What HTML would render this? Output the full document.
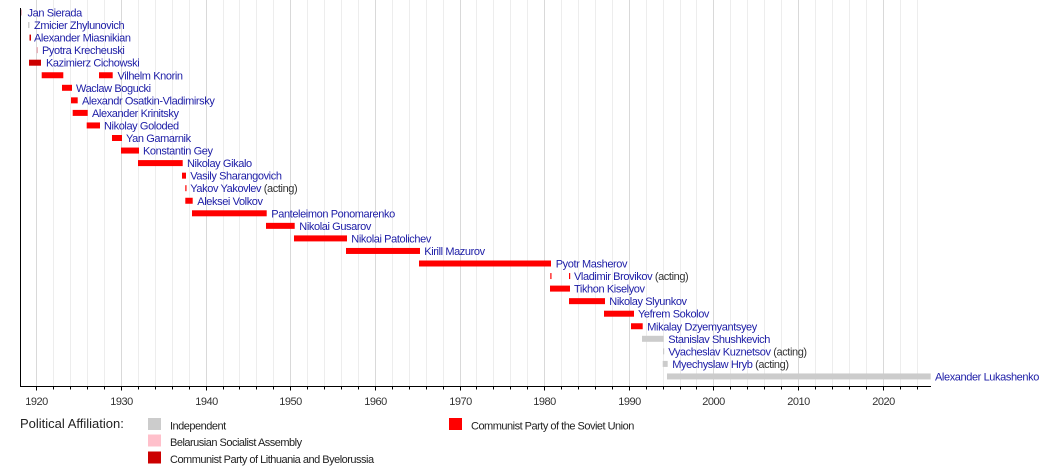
<!DOCTYPE html>
<html><head><meta charset="utf-8"><style>
html,body{margin:0;padding:0;background:#fff;}
body{width:1050px;height:475px;overflow:hidden;}
svg{display:block;}
.n{font-family:"Liberation Sans",Arial,sans-serif;font-size:11px;letter-spacing:-0.4px;fill:#1c1ca6;}
.a{fill:#333;}
.t{font-family:"Liberation Sans",Arial,sans-serif;font-size:11px;letter-spacing:-0.5px;fill:#333;}
.l{font-family:"Liberation Sans",Arial,sans-serif;font-size:11px;letter-spacing:-0.5px;fill:#222;}
</style></head><body>
<svg width="1050" height="475" xmlns="http://www.w3.org/2000/svg">
<g id="grid"></g>
<g id="bars"></g>
<g id="axis"></g>
<script>
(function(){
var NS="http://www.w3.org/2000/svg";
function el(p,t,a,txt){var e=document.createElementNS(NS,t);for(var k in a)e.setAttribute(k,a[k]);if(txt!==undefined)e.textContent=txt;p.appendChild(e);return e;}
function X(y){return 36.3+(y-1920)*8.464;}
var g=document.getElementById('grid'),ax=document.getElementById('axis'),b=document.getElementById('bars');
for(var y=1920;y<=2024;y+=2){var x=Math.round(X(y))+0.5;var maj=(y%10===0);
el(g,'line',{x1:x,x2:x,y1:0,y2:386,stroke:maj?'#d9d9d9':'#ededed','stroke-width':1});
el(ax,'line',{x1:x,x2:x,y1:386,y2:maj?390.5:389.5,stroke:'#000','stroke-width':1});
if(maj){el(ax,'text',{x:x,y:405,'text-anchor':'middle','class':'t'},String(y));}}
el(ax,'line',{x1:20.5,x2:20.5,y1:8,y2:386.5,stroke:'#000','stroke-width':1});
el(ax,'line',{x1:20,x2:931,y1:386.5,y2:386.5,stroke:'#000','stroke-width':1});
var R='#ff0000',D='#cc0000',P='#e8b4bc',G='#cccccc';
var rows=[
[[[20.5,22,P]],'Jan Sierada',27.5],
[[[28,29.5,G]],'Zmicier Zhylunovich',34],
[[[29.5,31,D]],'Alexander Miasnikian',34],
[[[36.5,38,P]],'Pyotra Krecheuski',42],
[[[29,41,D]],'Kazimierz Cichowski',46],
[[[41.7,63.3,R],[99,112.7,R]],'Vilhelm Knorin',117.5],
[[[62,72,R]],'Waclaw Bogucki',76],
[[[71,77.7,R]],'Alexandr Osatkin-Vladimirsky',82],
[[[72.7,87.7,R]],'Alexander Krinitsky',92],
[[[86.7,100,R]],'Nikolay Goloded',104],
[[[112,122,R]],'Yan Gamarnik',126],
[[[121,139,R]],'Konstantin Gey',143],
[[[138,182.7,R]],'Nikolay Gikalo',187],
[[[182,186,R]],'Vasily Sharangovich',190.3],
[[[185.3,186.5,R]],'Yakov Yakovlev',190.3,1],
[[[185.3,192.7,R]],'Aleksei Volkov',197.3],
[[[192,266.7,R]],'Panteleimon Ponomarenko',271.3],
[[[266,294.7,R]],'Nikolai Gusarov',299.3],
[[[294,347,R]],'Nikolai Patolichev',351.3],
[[[346,420,R]],'Kirill Mazurov',424.3],
[[[419,551,R]],'Pyotr Masherov',555.7],
[[[550.3,551.5,R],[569,570.2,R]],'Vladimir Brovikov',574,1],
[[[550,570,R]],'Tikhon Kiselyov',574],
[[[569,605,R]],'Nikolay Slyunkov',609.3],
[[[604,634,R]],'Yefrem Sokolov',638],
[[[631,642.7,R]],'Mikalay Dzyemyantsyey',647.3],
[[[642,663.7,G]],'Stanislav Shushkevich',668.3],
[[[663,664.2,G]],'Vyacheslav Kuznetsov',668.3,1],
[[[662.7,667.7,G]],'Myechyslaw Hryb',672.3,1],
[[[667,930.7,G]],'Alexander Lukashenko',935]
];
rows.forEach(function(r,i){var cy=12.5+12.55*i;
r[0].forEach(function(s){el(b,'rect',{x:s[0],y:cy-3,width:Math.max(s[1]-s[0],1),height:6,fill:s[2]});});
var t=el(b,'text',{x:r[2],y:cy+4,'class':'n'},r[1]);
if(r[3]){el(t,'tspan',{'class':'a'},' (acting)');}
});
})();
</script>
<text x="20" y="428" font-family="Liberation Sans, Arial, sans-serif" font-size="13" fill="#222">Political Affiliation:</text>
<rect x="148" y="418" width="13" height="12" fill="#cccccc"/>
<text x="170" y="429.5" class="l">Independent</text>
<rect x="148" y="434.5" width="13" height="12" fill="#ffc0cb"/>
<text x="170" y="446" class="l">Belarusian Socialist Assembly</text>
<rect x="148" y="451.5" width="13" height="12" fill="#cc0000"/>
<text x="170" y="463" class="l">Communist Party of Lithuania and Byelorussia</text>
<rect x="449" y="418" width="13" height="12" fill="#ff0000"/>
<text x="471" y="429.5" class="l">Communist Party of the Soviet Union</text>
</svg>
</body></html>
